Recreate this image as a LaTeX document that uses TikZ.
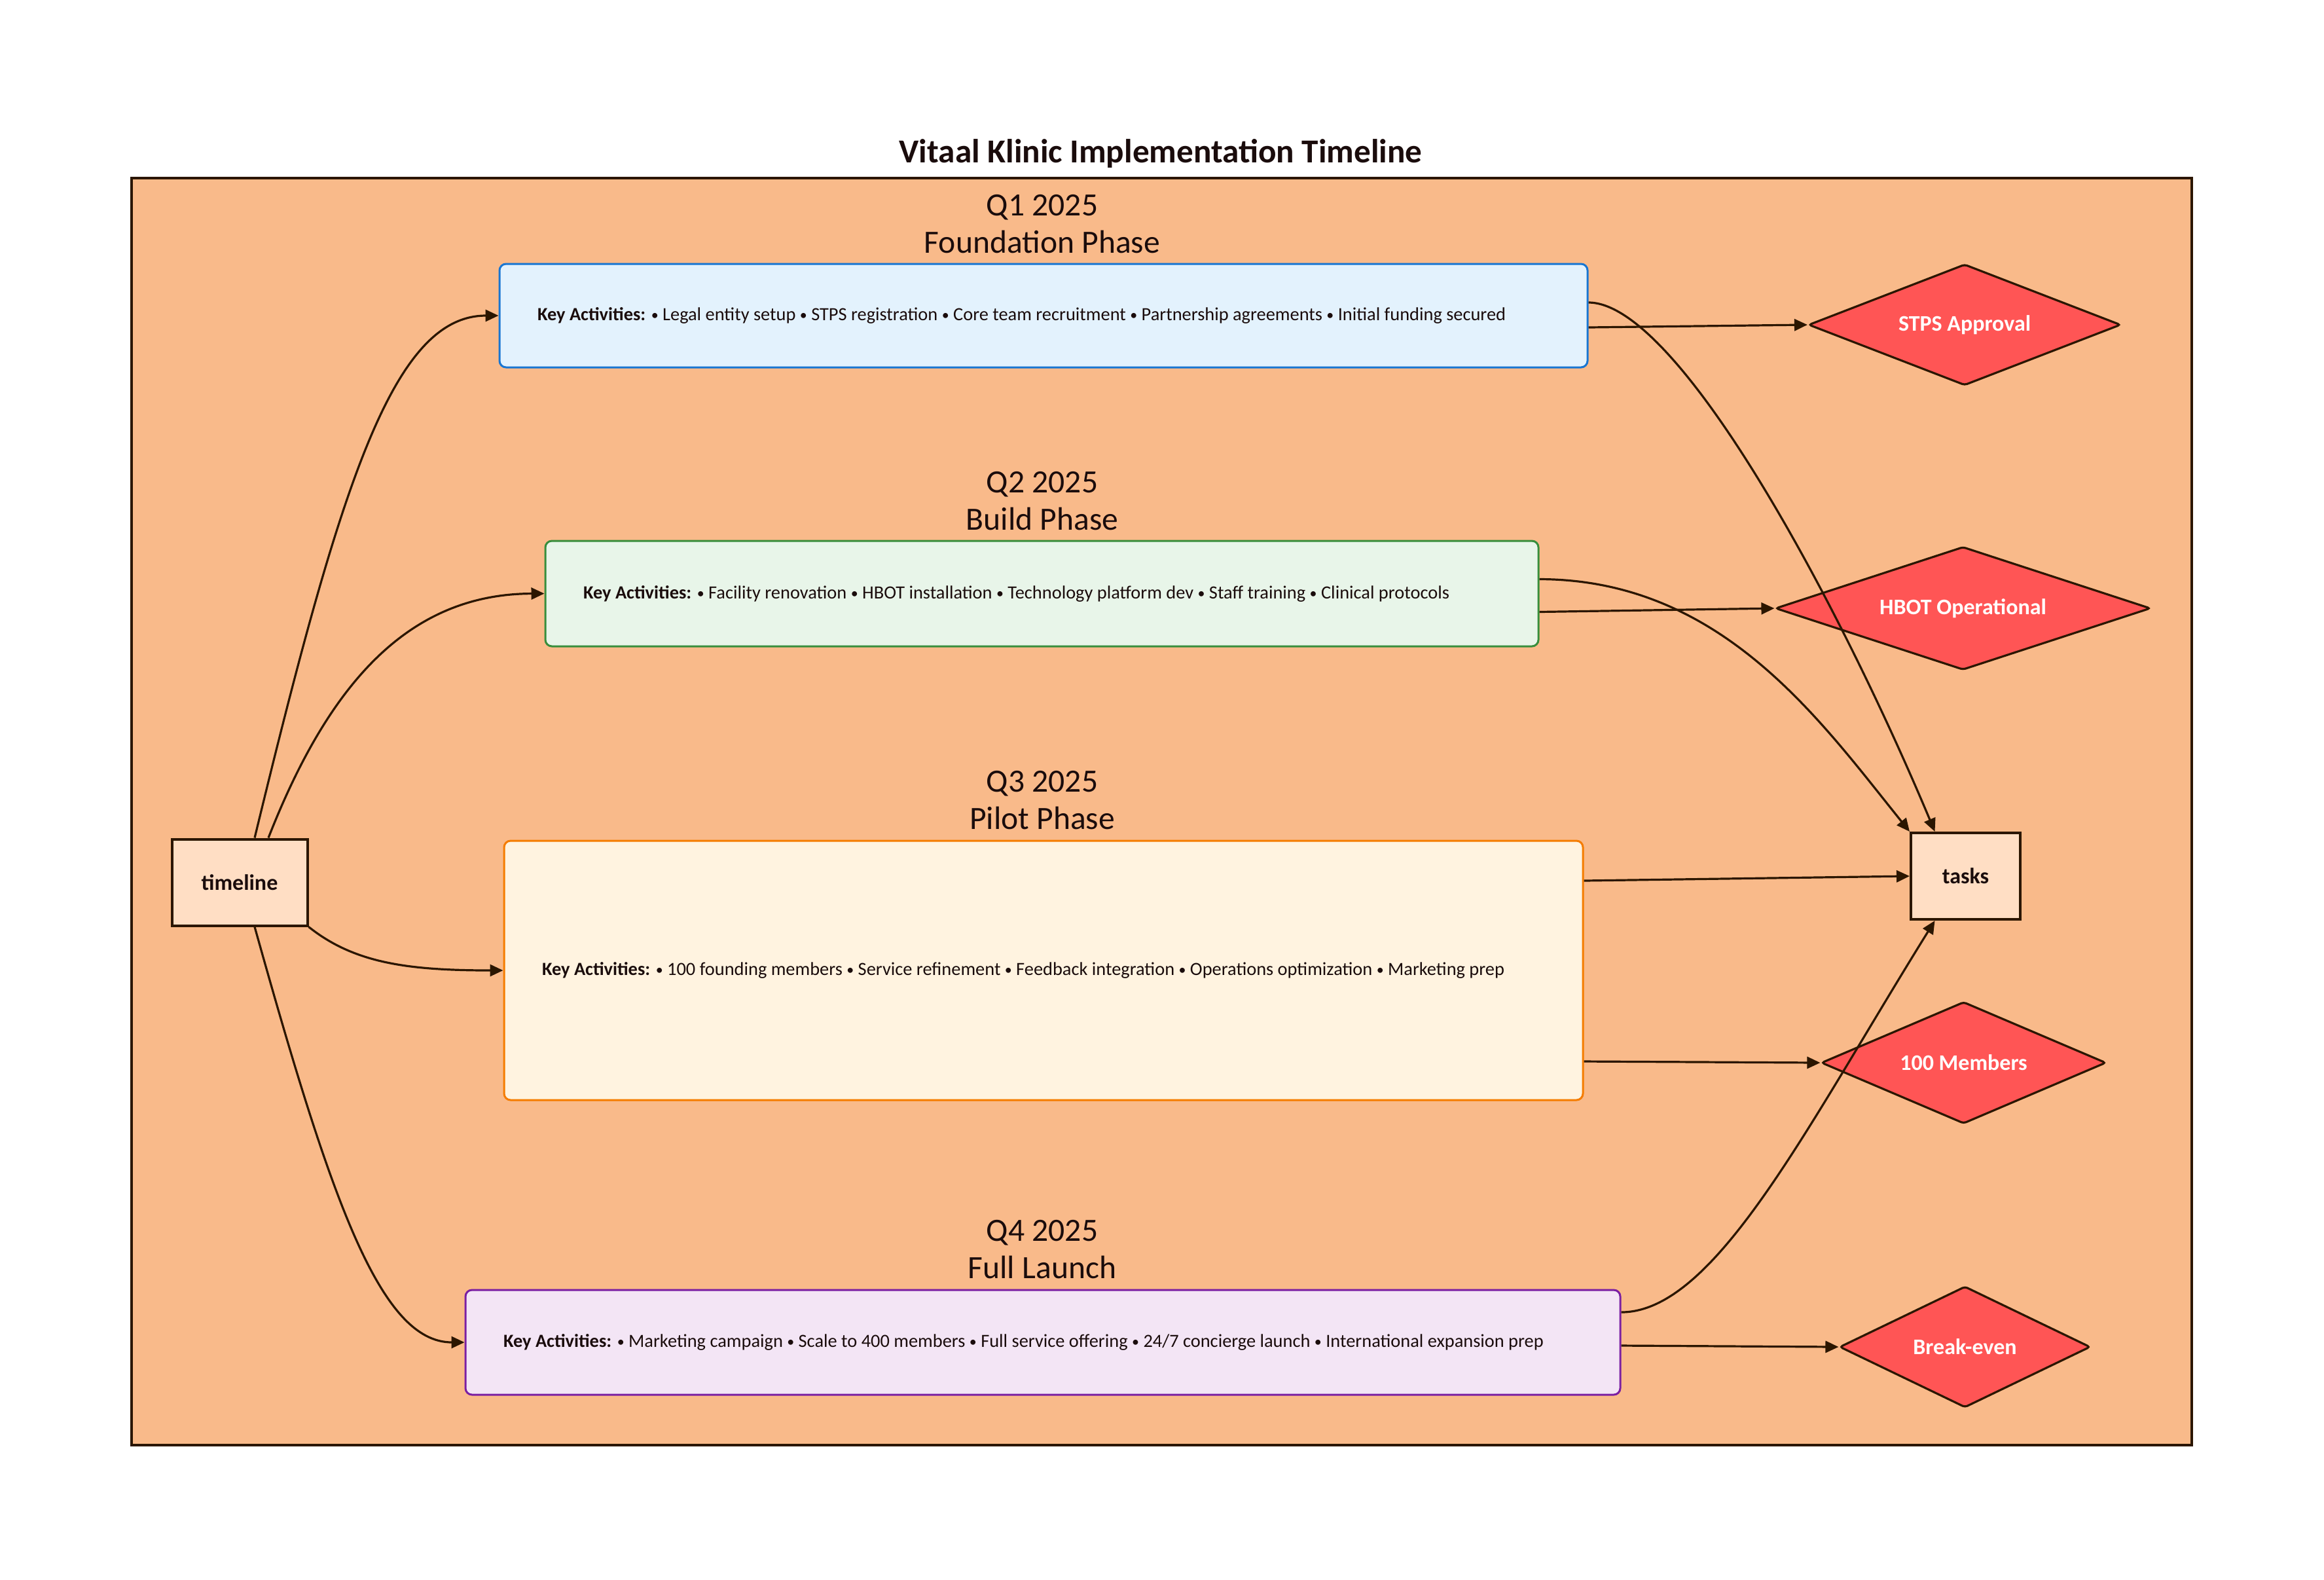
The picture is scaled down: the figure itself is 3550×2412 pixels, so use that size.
\documentclass[tikz,border=0pt]{standalone}
\usepackage{fontspec}
\setmainfont{Carlito}
\usetikzlibrary{shapes.geometric,arrows.meta}
\definecolor{edgec}{HTML}{2B1600}
\definecolor{textc}{HTML}{1A0C0C}
\definecolor{framefill}{HTML}{F9BA8A}
\definecolor{smallfill}{HTML}{FFDEC4}
\definecolor{dfill}{HTML}{FF5555}
\definecolor{qafill}{HTML}{E3F2FD}\definecolor{qadraw}{HTML}{1976D2}
\definecolor{qbfill}{HTML}{E8F5E9}\definecolor{qbdraw}{HTML}{388E3C}
\definecolor{qcfill}{HTML}{FFF3E0}\definecolor{qcdraw}{HTML}{F57C00}
\definecolor{qdfill}{HTML}{F3E5F5}\definecolor{qddraw}{HTML}{7B1FA2}
\tikzset{
  phasebox/.style={draw, rounded corners=2.5pt, line width=0.75pt, inner sep=0pt, text=textc, font=\fontsize{7.1}{8.5}\selectfont},
  phasetext/.style={anchor=west, inner sep=0pt, text=textc, font=\fontsize{7.1}{8.5}\selectfont},
  phaselabel/.style={text=textc, align=center, font=\fontsize{12.4}{14.4}\selectfont, inner sep=0pt},
  smallbox/.style={draw=edgec, fill=smallfill, line width=1pt, inner sep=0pt, text=textc, font=\bfseries\fontsize{8.5}{10}\selectfont},
  milestone/.style={diamond, aspect=2.6, draw=edgec, fill=dfill, line width=0.8pt, inner sep=0pt, text=white, font=\bfseries\fontsize{8.5}{10}\selectfont, rounded corners=1pt},
  conn/.style={draw=edgec, line width=0.8pt, -{Triangle[length=5pt,width=4.5pt]}},
}
\newcommand{\bul}{{\fontsize{5.5}{6}\selectfont\raisebox{0.25pt}{•}}}
\begin{document}
\begin{tikzpicture}[x=0.25pt,y=-0.25pt]
\useasboundingbox (0,0) rectangle (3550,2412);
\fill[white] (0,0) rectangle (3550,2412);
\node[text=textc, font=\bfseries\fontsize{12.8}{15}\selectfont, inner sep=0pt] (title) at (1773,235) {Vitaal Klinic Implementation Timeline};
\draw[draw=edgec, fill=framefill, line width=1pt] (201,272) rectangle (3348,2207);

\node[phaselabel] (l1) at (1592,342) {Q1 2025\\Foundation Phase};
\node[phaselabel] (l2) at (1592,765) {Q2 2025\\Build Phase};
\node[phaselabel] (l3) at (1592,1222) {Q3 2025\\Pilot Phase};
\node[phaselabel] (l4) at (1592,1908) {Q4 2025\\Full Launch};

\node[phasebox, draw=qadraw, fill=qafill, minimum width=415.5pt, minimum height=39.5pt] (q1) at (1594,482) {};
\node[phasebox, draw=qbdraw, fill=qbfill, minimum width=379.25pt, minimum height=40.25pt] (q2) at (1591.5,906.5) {};
\node[phasebox, draw=qcdraw, fill=qcfill, minimum width=412pt, minimum height=99pt] (q3) at (1594,1482) {};
\node[phasebox, draw=qddraw, fill=qdfill, minimum width=441pt, minimum height=40pt] (q4) at (1593,2050) {};

\node[phasetext] (t1) at ([xshift=14.7pt]q1.west) {\textbf{Key Activities:} \bul{} Legal entity setup \bul{} STPS registration \bul{} Core team recruitment \bul{} Partnership agreements \bul{} Initial funding secured};
\node[phasetext] (t2) at ([xshift=14.7pt]q2.west) {\textbf{Key Activities:} \bul{} Facility renovation \bul{} HBOT installation \bul{} Technology platform dev \bul{} Staff training \bul{} Clinical protocols};
\node[phasetext] (t3) at ([xshift=14.7pt]q3.west) {\textbf{Key Activities:} \bul{} 100 founding members \bul{} Service refinement \bul{} Feedback integration \bul{} Operations optimization \bul{} Marketing prep};
\node[phasetext] (t4) at ([xshift=14.7pt]q4.west) {\textbf{Key Activities:} \bul{} Marketing campaign \bul{} Scale to 400 members \bul{} Full service offering \bul{} 24/7 concierge launch \bul{} International expansion prep};

\node[smallbox, minimum width=51.75pt, minimum height=33pt] (tl) at (366,1347.5) {timeline};
\node[smallbox, minimum width=41.75pt, minimum height=33pt] (tasks) at (3002.5,1338) {tasks};

\node[milestone, minimum width=119.25pt, minimum height=46.25pt] (stps) at (3001,496) {STPS Approval};
\node[milestone, minimum width=143.25pt, minimum height=47pt] (hbot) at (2998.5,929) {HBOT Operational};
\node[milestone, minimum width=108.75pt, minimum height=46.5pt] (hm) at (2999.5,1623) {100 Members};
\node[milestone, minimum width=95.75pt, minimum height=46.25pt] (be) at (3001.5,2057) {Break-even};

% timeline to phases
\draw[conn] ([xshift=5.75pt]tl.north) .. controls (520,740) and (600,482) .. (q1.west);
\draw[conn] ([xshift=11pt]tl.north) .. controls (500,1050) and (620,907) .. (q2.west);
\draw[conn] (tl.south east) .. controls (540,1470) and (620,1482) .. (q3.west);
\draw[conn] ([xshift=5.75pt]tl.south) .. controls (505,1830) and (580,2050) .. (q4.west);

% phases to milestones
\draw[conn] ([yshift=-4.5pt]q1.east) -- (stps.west);
\draw[conn] ([yshift=-7pt]q2.east) -- (hbot.west);
\draw[conn] ([yshift=-34.75pt]q3.east) -- (hm.west);
\draw[conn] ([yshift=-1.25pt]q4.east) -- (be.west);

% phases to tasks
\draw[conn] ([yshift=5pt]q1.east) .. controls (2560,462) and (2800,900) .. ([xshift=-11.75pt]tasks.north);
\draw[conn] ([yshift=5.5pt]q2.east) .. controls (2630,885) and (2780,1100) .. (tasks.north west);
\draw[conn] ([yshift=34.25pt]q3.east) -- (tasks.west);
\draw[conn] ([yshift=11.5pt]q4.east) .. controls (2620,2004) and (2760,1720) .. ([xshift=-11.75pt]tasks.south);
\end{tikzpicture}
\end{document}
